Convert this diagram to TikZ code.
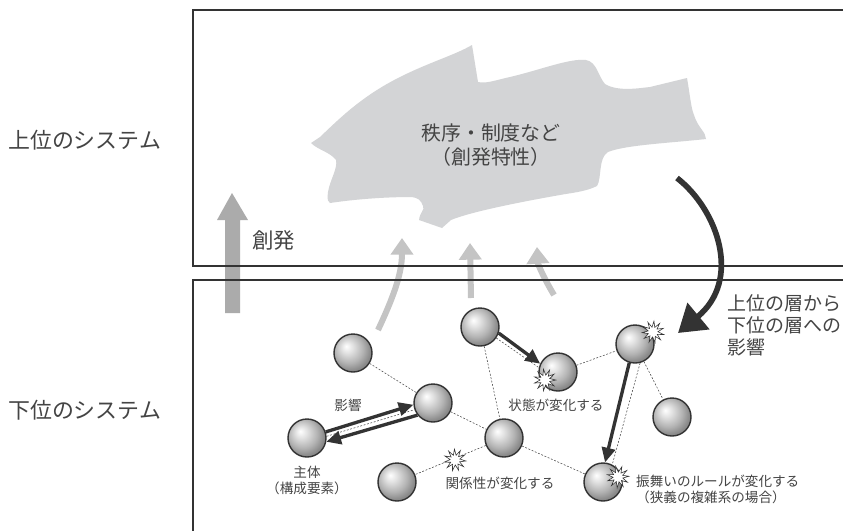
\documentclass[tikz,border=0pt]{standalone}
\usepackage{fontspec}
\setmainfont{Noto Sans CJK JP}
\usetikzlibrary{arrows.meta,shapes.geometric}
\definecolor{ink}{HTML}{333333}
\definecolor{txt}{HTML}{444444}
\definecolor{blobgray}{HTML}{D3D4D6}
\definecolor{emgray}{HTML}{ABABAB}
\definecolor{lightarrow}{HTML}{C4C4C4}
\pgfdeclareradialshading{sphere}{\pgfpoint{-9bp}{9bp}}{color(0bp)=(white); color(8bp)=(black!12); color(19bp)=(black!30); color(27bp)=(black!46); color(50bp)=(black!50)}
\begin{document}
\begin{tikzpicture}[x=0.3mm,y=-0.3mm,
  ball/.style={circle, minimum size=11.4mm, inner sep=0pt, draw=ink, line width=1.2pt, shading=sphere},
  burst/.style={star, star points=11, star point ratio=2.2, minimum size=6.5mm, inner sep=0pt, draw=ink, fill=white, line width=0.5pt},
  link/.style={draw=black!75, line width=0.45pt, dash pattern=on 1.6pt off 1.4pt},
  infl/.style={draw=ink, line width=1mm, -{Triangle[width=4mm,length=4.4mm]}},
  emerge/.style={draw=lightarrow, line width=1.8mm, -{Triangle[width=6.6mm,length=5mm]}},
  boxline/.style={draw=ink, line width=0.6mm},
  bigtxt/.style={text=txt, font=\fontsize{18.7}{22}\selectfont, inner sep=0pt},
  midtxt/.style={text=txt, font=\fontsize{17}{20.5}\selectfont, inner sep=0pt, align=center},
  sidetxt/.style={text=txt, font=\fontsize{16.2}{19}\selectfont, inner sep=0pt, align=left},
  smalltxt/.style={text=txt, font=\fontsize{11.6}{13.6}\selectfont, inner sep=0pt, align=center}
]
\useasboundingbox (0,0) rectangle (843,531);
\fill[white] (0,0) rectangle (843,531);

% side labels
\node[bigtxt, anchor=west] (upper) at (8,140) {上位のシステム};
\node[bigtxt, anchor=west] (lower) at (8,410) {下位のシステム};

% blob
\fill[blobgray] (311,143) -- (320,137)
  .. controls (340,118) and (362,96) .. (400,77)
  .. controls (430,62) and (455,55) .. (472,45)
  -- (478,82)
  .. controls (486,84) and (496,80) .. (510,77)
  .. controls (540,70) and (570,58) .. (586,60)
  .. controls (597,62) and (598,76) .. (605,84)
  .. controls (618,92) and (640,88) .. (650,87)
  -- (687,78)
  .. controls (690,95) and (691,108) .. (694,115)
  .. controls (698,128) and (706,132) .. (706,139)
  .. controls (670,143) and (625,145) .. (608,152)
  .. controls (598,158) and (602,178) .. (597,186)
  .. controls (585,192) and (570,193) .. (560,195)
  .. controls (520,202) and (470,212) .. (451,220)
  -- (442,228) -- (419,220)
  .. controls (420,212) and (425,210) .. (423,206)
  .. controls (421,200) and (418,198) .. (412,197)
  .. controls (380,197) and (350,200) .. (330,203)
  .. controls (326,200) and (328,195) .. (328,192)
  .. controls (330,180) and (338,168) .. (336,160)
  .. controls (330,152) and (318,150) .. (311,143) -- cycle;
\node[midtxt] (order) at (491,145) {秩序・制度など\\（創発特性）};

% emergence (big gray arrow)
\fill[emgray] (225,313) -- (225,220) -- (217,220) -- (232,193) -- (248,220) -- (240,220) -- (240,313) -- cycle;
\node[bigtxt, anchor=west, font=\fontsize{18.3}{22}\selectfont] (emlabel) at (252,240) {創発};

% light emergence arrows
\coordinate (e1s) at (378,330); \coordinate (e1t) at (402,238);
\coordinate (e2s) at (471,298); \coordinate (e2t) at (470,243);
\coordinate (e3s) at (554,295); \coordinate (e3t) at (537,247);
\draw[emerge] (e1s) .. controls (392,300) and (402,275) .. (e1t);
\draw[emerge] (e2s) -- (e2t);
\draw[emerge] (e3s) .. controls (545,280) and (538,265) .. (e3t);

% system boxes
\draw[boxline] (843,10) -- (193,10) -- (193,266) -- (843,266);
\draw[boxline] (843,280) -- (193,280) -- (193,531);

% downward influence
\coordinate (dstart) at (677,178);
\coordinate (dend) at (678,333);
\draw[draw=ink, line width=1.7mm, -{Triangle[width=10mm,length=8mm]}] (dstart) .. controls (718,210) and (742,280) .. (dend);
\node[sidetxt, anchor=north west] (downlabel) at (727,294) {上位の層から\\下位の層への\\影響};

% balls
\node[ball] (A) at (353,353) {};
\node[ball] (B) at (307,438) {};
\node[ball] (C) at (433,403) {};
\node[ball] (D) at (397,482) {};
\node[ball] (E) at (480,327) {};
\node[ball] (F) at (558,372) {};
\node[ball] (G) at (635,344) {};
\node[ball] (H) at (504,438) {};
\node[ball] (I) at (603,482) {};
\node[ball] (J) at (672,417) {};

% dashed relations
\draw[link] (A) -- (C);
\draw[link] (C) -- (H);
\draw[link] (E) -- (H);
\draw[link] (H) -- (I);
\draw[link] (F) -- (G);
\draw[link] (H) -- (D);
\draw[link] (G) -- (J);
\draw[link] (B.5) -- (C.200);
\draw[link] (E.326) -- (F.167);
\draw[link] (G.285) -- (I.62);

% influence arrows
\draw[infl] (B.18) -- (C.185);
\draw[infl] (C.218) -- (B.349);
\draw[infl] (E.342) -- (F.155);
\draw[infl] (G.253) -- (I.84);

% bursts
\node[burst, rotate=8] (bF) at (545,380) {};
\node[burst, rotate=-5] (bG) at (653,332) {};
\node[burst, rotate=12] (bI) at (618,477) {};
\node[burst, rotate=3] (bHD) at (455,460) {};

% small labels
\node[smalltxt] (lInfl) at (348,405) {影響};
\node[smalltxt] (lActor) at (307,480) {主体\\（構成要素）};
\node[smalltxt] (lState) at (556,405) {状態が変化する};
\node[smalltxt] (lRel) at (500,483) {関係性が変化する};
\node[smalltxt, anchor=west, align=left] (lRule) at (636,489.5) {振舞いのルールが変化する\\（狭義の複雑系の場合）};
\end{tikzpicture}
\end{document}
